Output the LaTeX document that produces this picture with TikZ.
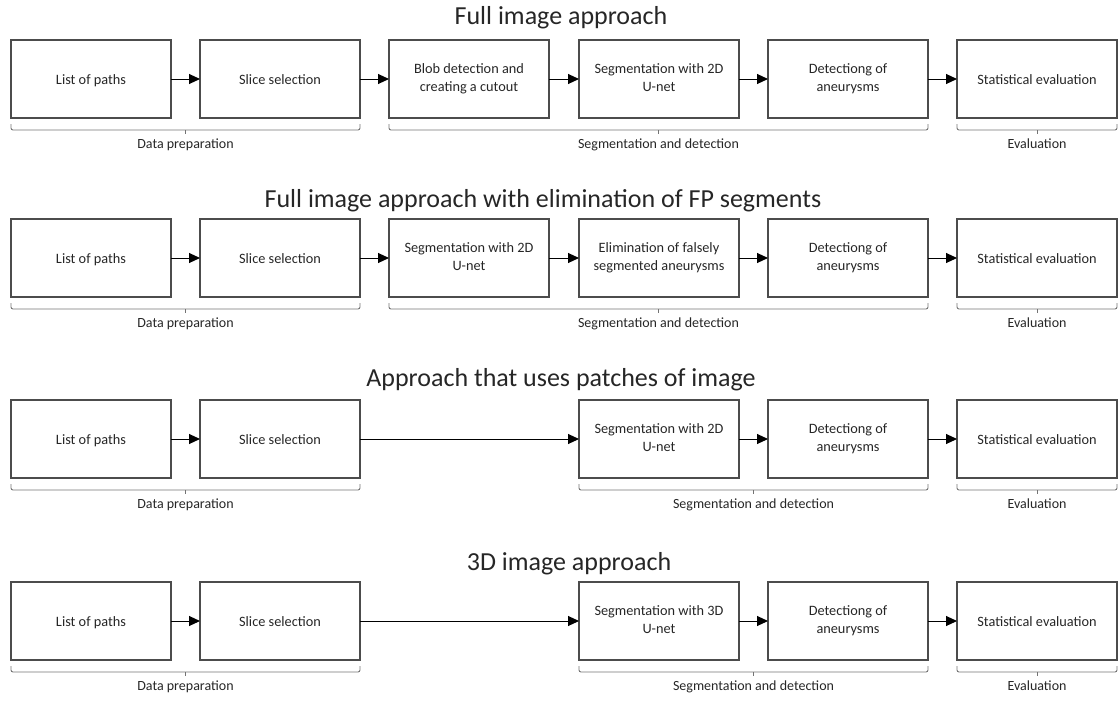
\documentclass[tikz,border=0pt]{standalone}
\usepackage{fontspec}
\setmainfont{Carlito}
\usepackage{tikz}
\usetikzlibrary{positioning,calc,arrows.meta}

\newcommand{\boxstrut}{\rule[-2.4pt]{0pt}{15.4pt}}

% bracket under a group of steps: first node, last node, label
\newcommand{\phasebrace}[4]{%
  \coordinate (#4-mid) at ($(#1.south west)!0.5!(#2.south east)$);
  \draw[brk] ([yshift=-6pt]#1.south west) |- ([yshift=-12pt]#2.south east) -- ([yshift=-6pt]#2.south east);
  \draw[brk] ([yshift=-12pt]#4-mid) -- ++(0,-4pt);
  \node[phase] (#4) at ([yshift=-30pt]#4-mid) {#3};
}

\begin{document}
\begin{tikzpicture}[x=1pt,y=-1pt,
                stepbox/.style={draw=black!70,line width=1.1pt,minimum width=160pt,minimum height=78pt,
                            inner sep=0pt,outer sep=0pt,align=center,text=black!85,
                            font=\fontsize{14.3}{18}\selectfont,
                            execute at begin node=\boxstrut,execute at end node=\boxstrut},
                title/.style={anchor=base,text=black!85,font=\fontsize{26}{30}\selectfont},
                phase/.style={anchor=base,text=black!85,font=\fontsize{14}{17}\selectfont},
                brk/.style={draw=black!55,line width=0.9pt,rounded corners=2pt},
                flow/.style={draw=black,line width=1pt,-{Triangle[length=11pt,width=10pt]}}
            ]
                \useasboundingbox (0,0) rectangle (1118,701);

                % Full image approach
                \node[title] (t1) at (561,25) {Full image approach};
                \node[stepbox] (paths1) at (91,79) {List of paths};
                \node[stepbox] (slice1) at (280,79) {Slice selection};
                \node[stepbox] (blob1) at (469,79) {Blob detection and\\creating a cutout};
                \node[stepbox] (seg1) at (659,79) {Segmentation with 2D\\U-net};
                \node[stepbox] (det1) at (848,79) {Detectiong of\\aneurysms};
                \node[stepbox] (eval1) at (1037,79) {Statistical evaluation};
                \draw[flow] (paths1) -- (slice1);
                \draw[flow] (slice1) -- (blob1);
                \draw[flow] (blob1) -- (seg1);
                \draw[flow] (seg1) -- (det1);
                \draw[flow] (det1) -- (eval1);
                \phasebrace{paths1}{slice1}{Data preparation}{prep1}
                \phasebrace{blob1}{det1}{Segmentation and detection}{segdet1}
                \phasebrace{eval1}{eval1}{Evaluation}{ev1}

                % Full image approach with elimination of FP segments
                \node[title] (t2) at (543,207) {Full image approach with elimination of FP segments};
                \node[stepbox] (paths2) at (91,258) {List of paths};
                \node[stepbox] (slice2) at (280,258) {Slice selection};
                \node[stepbox] (seg2) at (469,258) {Segmentation with 2D\\U-net};
                \node[stepbox] (elim2) at (659,258) {Elimination of falsely\\segmented aneurysms};
                \node[stepbox] (det2) at (848,258) {Detectiong of\\aneurysms};
                \node[stepbox] (eval2) at (1037,258) {Statistical evaluation};
                \draw[flow] (paths2) -- (slice2);
                \draw[flow] (slice2) -- (seg2);
                \draw[flow] (seg2) -- (elim2);
                \draw[flow] (elim2) -- (det2);
                \draw[flow] (det2) -- (eval2);
                \phasebrace{paths2}{slice2}{Data preparation}{prep2}
                \phasebrace{seg2}{det2}{Segmentation and detection}{segdet2}
                \phasebrace{eval2}{eval2}{Evaluation}{ev2}

                % Approach that uses patches of image
                \node[title] (t3) at (561,386) {Approach that uses patches of image};
                \node[stepbox] (paths3) at (91,439) {List of paths};
                \node[stepbox] (slice3) at (280,439) {Slice selection};
                \node[stepbox] (seg3) at (659,439) {Segmentation with 2D\\U-net};
                \node[stepbox] (det3) at (848,439) {Detectiong of\\aneurysms};
                \node[stepbox] (eval3) at (1037,439) {Statistical evaluation};
                \draw[flow] (paths3) -- (slice3);
                \draw[flow] (slice3) -- (seg3);
                \draw[flow] (seg3) -- (det3);
                \draw[flow] (det3) -- (eval3);
                \phasebrace{paths3}{slice3}{Data preparation}{prep3}
                \phasebrace{seg3}{det3}{Segmentation and detection}{segdet3}
                \phasebrace{eval3}{eval3}{Evaluation}{ev3}

                % 3D image approach
                \node[title] (t4) at (569,570) {3D image approach};
                \node[stepbox] (paths4) at (91,621) {List of paths};
                \node[stepbox] (slice4) at (280,621) {Slice selection};
                \node[stepbox] (seg4) at (659,621) {Segmentation with 3D\\U-net};
                \node[stepbox] (det4) at (848,621) {Detectiong of\\aneurysms};
                \node[stepbox] (eval4) at (1037,621) {Statistical evaluation};
                \draw[flow] (paths4) -- (slice4);
                \draw[flow] (slice4) -- (seg4);
                \draw[flow] (seg4) -- (det4);
                \draw[flow] (det4) -- (eval4);
                \phasebrace{paths4}{slice4}{Data preparation}{prep4}
                \phasebrace{seg4}{det4}{Segmentation and detection}{segdet4}
                \phasebrace{eval4}{eval4}{Evaluation}{ev4}
            \end{tikzpicture}
\end{document}
